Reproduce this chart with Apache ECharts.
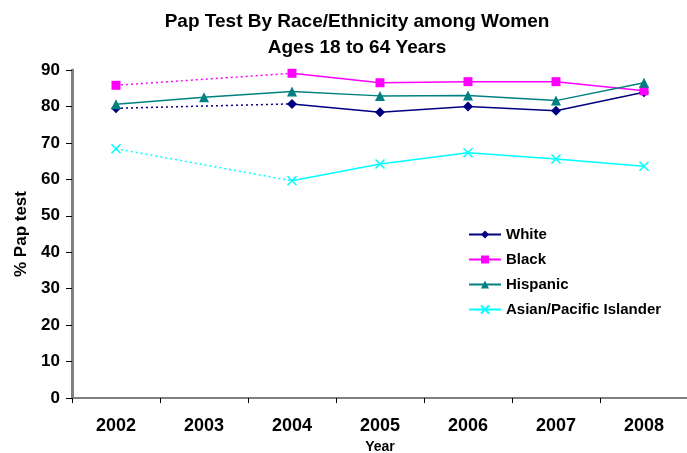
<!DOCTYPE html>
<html>
<head>
<meta charset="utf-8">
<script src="https://cdn.jsdelivr.net/npm/echarts@6/dist/echarts.min.js"></script>
<style>
  html, body { margin: 0; padding: 0; background: #fff; }
  #chart { width: 687px; height: 453px; }
</style>
</head>
<body>
<div id="chart"></div>
<script>
// Survey years and percent of women 18-64 reporting a Pap test
const years = ['2002', '2003', '2004', '2005', '2006', '2007', '2008'];
const white = [79.5, null, 80.7, 78.4, 80.0, 78.8, 83.9];
const black = [85.8, null, 89.1, 86.5, 86.8, 86.8, 84.3];
const hispanic = [80.6, 82.5, 84.1, 82.9, 83.0, 81.6, 86.5];
const asian = [68.4, null, 59.6, 64.2, 67.3, 65.6, 63.6];

const FONT = '"Liberation Sans", Arial, sans-serif';
const xMark = 'path://M0,0L10,10M10,0L0,10';

// Years with no survey value are bridged by a dotted line
function bridge(values) {
  return values.map((v, i) => {
    if (v === null) return null;
    const before = i > 0 && values[i - 1] === null;
    const after = i < values.length - 1 && values[i + 1] === null;
    return (before || after) ? v : null;
  });
}

function mainSeries(name, data, color, symbol, size, extra) {
  return Object.assign({
    name: name,
    type: 'line',
    data: data.map(v => v === null ? '-' : v),
    connectNulls: false,
    symbol: symbol,
    symbolSize: size,
    color: color,
    lineStyle: { color: color, width: 1.5 },
    itemStyle: { color: color },
    z: 3
  }, extra || {});
}

function dottedSeries(data, color) {
  return {
    type: 'line',
    data: bridge(data),
    connectNulls: true,
    symbol: 'none',
    silent: true,
    lineStyle: { color: color, width: 1.5, type: [2, 3] },
    z: 2
  };
}

const chart = echarts.init(document.getElementById('chart'));
chart.setOption({
  animation: false,
  backgroundColor: '#fff',
  title: {
    text: 'Pap Test By Race/Ethnicity among Women\nAges 18 to 64 Years',
    left: 352,
    textAlign: 'center',
    top: 4,
    textStyle: { fontFamily: FONT, fontSize: 19, fontWeight: 'bold', color: '#000', lineHeight: 26 }
  },
  legend: {
    data: ['White', 'Black', 'Hispanic', 'Asian/Pacific Islander'],
    orient: 'vertical',
    left: 463,
    top: 222,
    itemWidth: 32,
    itemHeight: 10,
    itemGap: 10,
    textStyle: { fontFamily: FONT, fontSize: 15, fontWeight: 'bold', color: '#000' }
  },
  grid: { left: 72, top: 70, width: 616, bottom: 55, outerBoundsMode: 'none', containLabel: false },
  xAxis: {
    type: 'category',
    data: years,
    boundaryGap: true,
    name: 'Year',
    nameLocation: 'middle',
    nameGap: 38,
    nameTextStyle: { fontFamily: FONT, fontSize: 14, fontWeight: 'bold', color: '#000' },
    axisLine: { lineStyle: { color: '#808080', width: 2 } },
    axisTick: { show: true, length: 5, lineStyle: { color: '#000' } },
    axisLabel: { fontFamily: FONT, fontSize: 18, fontWeight: 'bold', color: '#000', margin: 19 }
  },
  yAxis: {
    type: 'value',
    min: 0,
    max: 90,
    interval: 10,
    name: '% Pap test',
    nameLocation: 'middle',
    nameRotate: 90,
    nameGap: 41,
    nameTextStyle: { fontFamily: FONT, fontSize: 17, fontWeight: 'bold', color: '#000' },
    axisLine: { show: true, lineStyle: { color: '#808080', width: 3 } },
    axisTick: { show: true, length: 6, lineStyle: { color: '#000' } },
    axisLabel: { fontFamily: FONT, fontSize: 17, fontWeight: 'bold', color: '#000', margin: 12 },
    splitLine: { show: false }
  },
  series: [
    dottedSeries(white, '#000080'),
    dottedSeries(black, '#FF00FF'),
    dottedSeries(asian, '#00FFFF'),
    mainSeries('White', white, '#000080', 'diamond', 10),
    mainSeries('Black', black, '#FF00FF', 'rect', 9),
    mainSeries('Hispanic', hispanic, '#008080', 'triangle', 10),
    mainSeries('Asian/Pacific Islander', asian, '#00FFFF', xMark, 9, {
      itemStyle: { color: 'none', borderColor: '#00FFFF', borderWidth: 1.5 }
    })
  ]
});
</script>
</body>
</html>
